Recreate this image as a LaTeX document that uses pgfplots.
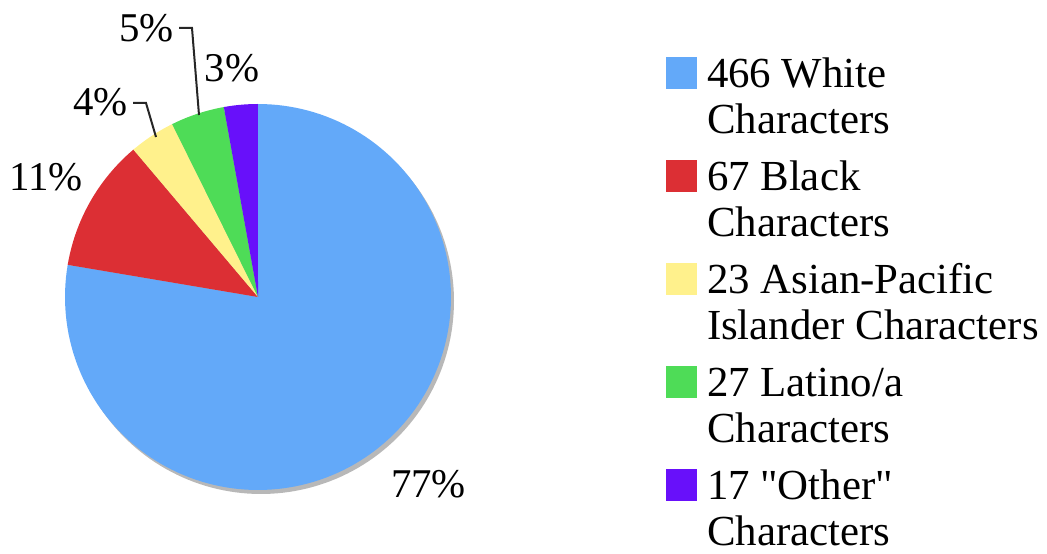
\documentclass[border=0pt]{standalone}
\usepackage{pgfplots}
\pgfplotsset{compat=1.18}
\usepackage{fontspec}
\setmainfont{Liberation Serif}
\newfontfamily\plainq{Liberation Serif}
\definecolor{cWhite}{HTML}{63A9F9}
\definecolor{cBlack}{HTML}{DC2F34}
\definecolor{cAsian}{HTML}{FFF18C}
\definecolor{cLatino}{HTML}{4EDC57}
\definecolor{cOther}{HTML}{6810FA}
\definecolor{cShadow}{HTML}{B8B8B8}
\newcommand{\two}[2]{\vtop{\baselineskip=45.5bp\lineskiplimit=-100bp\hbox{#1}\hbox{#2}}}
% values: 466, 67, 23, 27, 17 (total 600); slices clockwise from 12 o'clock
\pgfmathsetmacro\tot{466+67+23+27+17}
\pgfmathsetmacro\aA{90}
\pgfmathsetmacro\aB{\aA-466/\tot*360}
\pgfmathsetmacro\aC{\aB-67/\tot*360}
\pgfmathsetmacro\aD{\aC-23/\tot*360}
\pgfmathsetmacro\aE{\aD-27/\tot*360}
\pgfmathsetmacro\aF{\aE-17/\tot*360}
\begin{document}
\begin{tikzpicture}
\begin{axis}[
  width=1047bp, height=553bp, scale only axis,
  xmin=0, xmax=1047, ymin=0, ymax=553,
  axis line style={draw=none}, ticks=none, clip=false,
  legend style={at={(axis cs:666,496)}, anchor=north west, draw=none, fill=none,
    inner sep=0pt, outer sep=0pt, row sep=70.5bp, column sep=10bp,
    font=\fontsize{43}{45.5}\selectfont,
    nodes={inner sep=0pt, outer sep=0pt},
    cells={anchor=base west}},
  legend image code/.code={\fill[#1] (0bp,-1bp) rectangle (31bp,31bp);},
]
\addplot[fill=cShadow, draw=none, domain=0:360, samples=200, forget plot] ({261+193*cos(x)},{252+193*sin(x)});
\addplot[fill=cWhite, draw=none, domain=\aB:\aA, samples=150] ({258+193*cos(x)},{256+193*sin(x)}) -- (axis cs:258,256) -- cycle;
\addlegendentry{\two{466 White}{Characters}}
\addplot[fill=cBlack, draw=none, domain=\aC:\aB, samples=40] ({258+193*cos(x)},{256+193*sin(x)}) -- (axis cs:258,256) -- cycle;
\addlegendentry{\two{67 Black}{Characters}}
\addplot[fill=cAsian, draw=none, domain=\aD:\aC, samples=20] ({258+193*cos(x)},{256+193*sin(x)}) -- (axis cs:258,256) -- cycle;
\addlegendentry{\two{23 Asian-Pacific}{Islander Characters}}
\addplot[fill=cLatino, draw=none, domain=\aE:\aD, samples=20] ({258+193*cos(x)},{256+193*sin(x)}) -- (axis cs:258,256) -- cycle;
\addlegendentry{\two{27 Latino/a}{Characters}}
\addplot[fill=cOther, draw=none, domain=\aF:\aE, samples=20] ({258+193*cos(x)},{256+193*sin(x)}) -- (axis cs:258,256) -- cycle;
\addlegendentry{\two{17 {\plainq"}Other{\plainq"}}{Characters}}
% leader lines
\addplot[black!85, line width=2bp, forget plot] coordinates {(133,450) (146,450) (156,416)};
\addplot[black!85, line width=2bp, forget plot] coordinates {(179,525) (192,525) (199,438)};
% percentage labels
\node[font=\fontsize{41}{41}\selectfont, inner sep=0pt] at (axis cs:428.5,69) {77\%};
\node[font=\fontsize{41}{41}\selectfont, inner sep=0pt] at (axis cs:46,376) {11\%};
\node[font=\fontsize{41}{41}\selectfont, inner sep=0pt] at (axis cs:100.5,451) {4\%};
\node[font=\fontsize{41}{41}\selectfont, inner sep=0pt] at (axis cs:146.5,525) {5\%};
\node[font=\fontsize{41}{41}\selectfont, inner sep=0pt] at (axis cs:232,485) {3\%};
\end{axis}
\end{tikzpicture}
\end{document}
